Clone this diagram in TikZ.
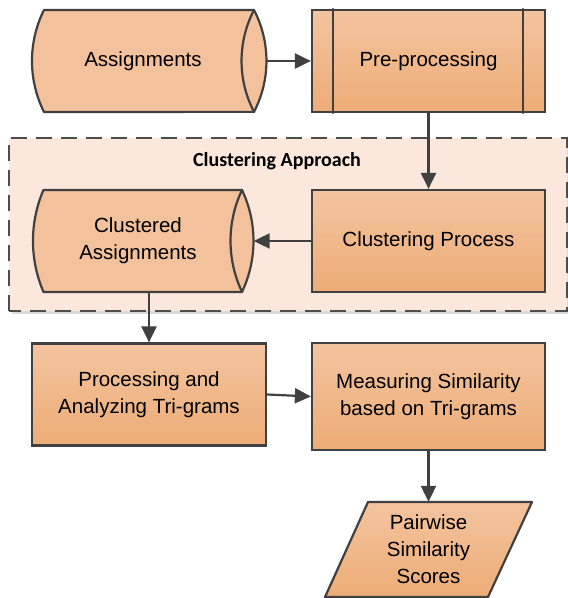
\documentclass[tikz,border=0pt]{standalone}
\usepackage{fontspec}
\setmainfont{Liberation Sans}
\newfontfamily\titlefont{Carlito}
\usetikzlibrary{arrows.meta,shadings}
\definecolor{edge}{HTML}{404040}
\definecolor{ftop}{HTML}{F3C4A0}
\definecolor{fbot}{HTML}{EDAC76}
\definecolor{cylfill}{HTML}{F3C19B}
\definecolor{grpfill}{HTML}{FBE7DB}
\definecolor{grpedge}{HTML}{4D4D4D}
\definecolor{shadowgray}{HTML}{DADADA}
\begin{document}
\begin{tikzpicture}[x=1pt,y=1pt,
  lbl/.style={font=\fontsize{20.5}{27}\selectfont, align=center, inner sep=0pt},
  procbox/.style={lbl, draw=edge, line width=2.2pt, top color=ftop, bottom color=fbot, minimum width=233pt, minimum height=102pt},
  cylshape/.style={draw=edge, line width=2.2pt, fill=cylfill, line join=round},
  plainline/.style={draw=edge, line width=2.2pt, line cap=round},
  conn/.style={draw=edge, line width=2.2pt, -{Triangle[length=16pt,width=15pt]}}
]
\useasboundingbox (0,0) rectangle (568,598);
% group box
\fill[shadowgray] (12,284) rectangle (571,457);
\draw[grpedge, line width=2.2pt, dash pattern=on 16pt off 9pt, fill=grpfill] (9,287) rectangle (567,460);
\node[font=\titlefont\bfseries\fontsize{20}{24}\selectfont, inner sep=0pt] (title) at (277,437) {Clustering Approach};
% cylinder 1 (stored data)
\path[cylshape] (44,588) -- (254,588)
  arc[start angle=27.5,end angle=-27.5,radius=110.3] -- (44,486)
  arc[start angle=206.5,end angle=153.5,radius=114.4] -- cycle;
\draw[plainline] (254,588) arc[start angle=152.5,end angle=207.5,radius=110.3];
\node[lbl, minimum width=222pt, minimum height=102pt] (assign) at (143,537) {Assignments};
% cylinder 2 (stored data)
\path[cylshape] (43.5,408) -- (242,408)
  arc[start angle=25.4,end angle=-25.4,radius=118.8] -- (43.5,306)
  arc[start angle=203.3,end angle=156.7,radius=129.1] -- cycle;
\draw[plainline] (242,408) arc[start angle=154.6,end angle=205.4,radius=118.8];
\node[lbl, minimum width=208pt, minimum height=102pt] (clus) at (138,357) {Clustered\\Assignments};
% process boxes
\node[procbox] (pre) at (428.5,537) {Pre-processing};
\draw[plainline] ([xshift=22pt]pre.north west) -- ([xshift=22pt]pre.south west);
\draw[plainline] ([xshift=-23pt]pre.north east) -- ([xshift=-23pt]pre.south east);
\node[procbox] (cproc) at (428.5,357) {Clustering Process};
\node[procbox, minimum width=234pt] (proc) at (149,203.5) {Processing and\\Analyzing Tri-grams};
\node[procbox, minimum height=107pt] (meas) at (428.5,201.5) {Measuring Similarity\\based on Tri-grams};
% parallelogram
\path[draw=edge, line width=2.2pt, top color=ftop, bottom color=fbot, line join=round] (368,96) -- (532,96) -- (488,1) -- (325,1) -- cycle;
\node[lbl, minimum width=160pt, minimum height=95pt] (scores) at (428.5,48.5) {Pairwise\\Similarity\\Scores};
% connectors
\draw[conn] ([xshift=12.5pt]assign.east) -- (pre.west);
\draw[conn] (pre.south) -- (cproc.north);
\draw[conn] (cproc.west) -- ([xshift=11.5pt]clus.east);
\draw[conn] (proc.north |- clus.south) -- (proc.north);
\draw[conn] (proc.east) -- (meas.west);
\draw[conn] (meas.south) -- (scores.north);
\end{tikzpicture}
\end{document}
